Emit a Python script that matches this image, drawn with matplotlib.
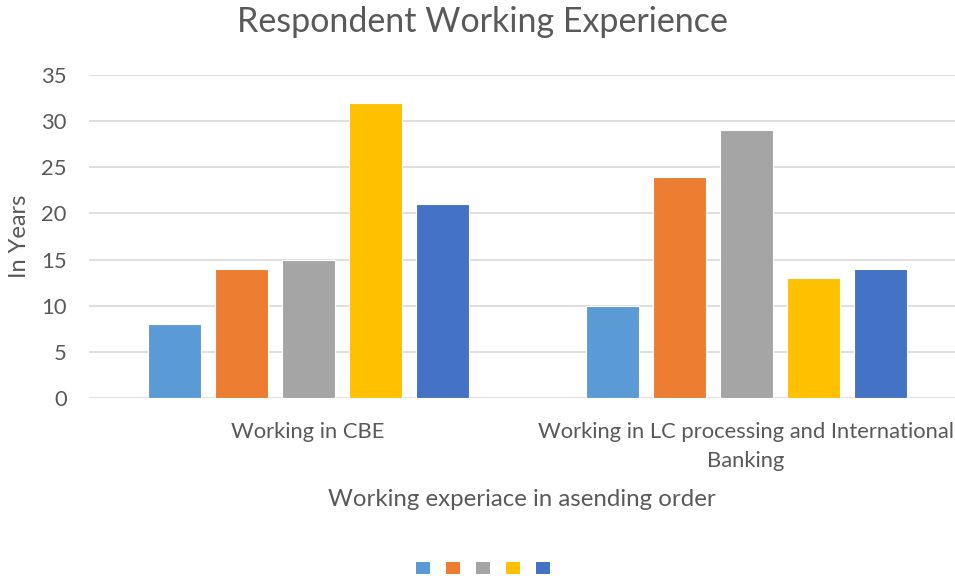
import matplotlib
matplotlib.use("Agg")
import matplotlib.pyplot as plt
from matplotlib.patches import Patch
import numpy as np

plt.rcParams['font.family'] = ['Lato', 'DejaVu Sans']

categories = ["Working in CBE", "Working in LC processing and International\nBanking"]
series_names = ["S1", "S2", "S3", "S4", "S5"]
values = [
    [8, 10],
    [14, 24],
    [15, 29],
    [32, 13],
    [21, 14],
]
colors = ["#5B9BD5", "#ED7D31", "#A5A5A5", "#FFC000", "#4472C4"]
yticks = [0, 5, 10, 15, 20, 25, 30, 35]

txt = "#595959"
fig = plt.figure(figsize=(9.55, 5.79), dpi=100)
ax = fig.add_axes([89/955, 181/579, 1 - 89/955, (504 - 181)/579])

x = np.arange(len(categories))
pitch = 67/438
bw = 53/438
handles = []
for i, (vals, c) in enumerate(zip(values, colors)):
    ax.bar(x + (i - 2) * pitch, vals, width=bw, color=c, edgecolor="white", linewidth=0.8, zorder=3)
    handles.append(Patch(facecolor=c, edgecolor="none"))

ax.set_xlim(-0.5, (955 - 308)/438)
ax.set_ylim(0, 35)
ax.set_yticks(yticks)
ax.set_xticks(x)
ax.set_xticklabels(categories, fontsize=15.8, color=txt, linespacing=1.6)
ax.tick_params(axis='both', length=0, colors=txt, labelsize=15.8)
ax.tick_params(axis='y', pad=16)
ax.tick_params(axis='x', pad=17)
ax.grid(axis='y', color="#D9D9D9", linewidth=1.2, zorder=0)
for s in ax.spines.values():
    s.set_visible(False)

ax.set_ylabel("In Years", fontsize=17, color=txt, labelpad=8)
ax.set_xlabel("Working experiace in asending order", fontsize=17.3, color=txt, labelpad=13)
fig.text(482/955, 1 - 22/579, "Respondent Working Experience", ha='center', va='center', fontsize=24.5, color=txt)

fig.legend(handles, [""] * 5, ncol=5, loc='center', bbox_to_anchor=(483/955, 1 - 568/579),
           frameon=False, handlelength=1.0, handleheight=1.0, handletextpad=0.0,
           columnspacing=1.15, fontsize=10)

fig.savefig("out.png", dpi=100)
